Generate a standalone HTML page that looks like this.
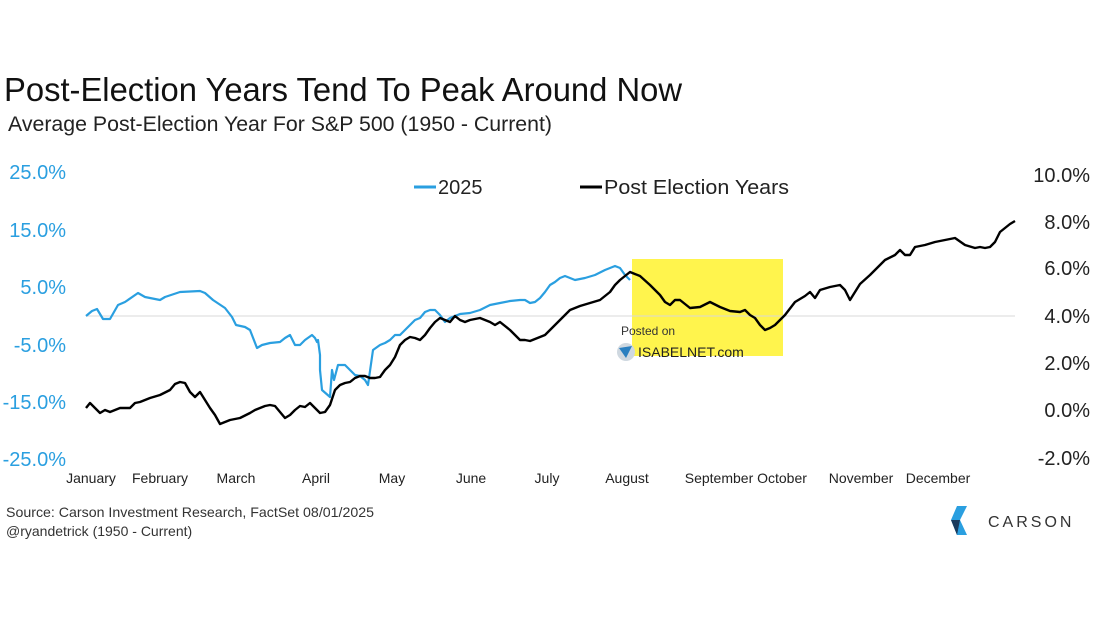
<!DOCTYPE html>
<html><head><meta charset="utf-8"><style>
html,body{margin:0;padding:0;background:#fff;}
svg{display:block;font-family:"Liberation Sans",sans-serif;}
</style></head><body>
<svg width="1094" height="617" viewBox="0 0 1094 617" xmlns="http://www.w3.org/2000/svg">
<rect width="1094" height="617" fill="#fff"/>
<text x="4" y="101" font-size="33" fill="#111" textLength="678" lengthAdjust="spacingAndGlyphs">Post-Election Years Tend To Peak Around Now</text>
<text x="8" y="131" font-size="21" fill="#222" textLength="544" lengthAdjust="spacingAndGlyphs">Average Post-Election Year For S&amp;P 500 (1950 - Current)</text>
<g font-size="20" fill="#2a9fe0" text-anchor="end">
<text x="66" y="179">25.0%</text><text x="66" y="237">15.0%</text><text x="66" y="294">5.0%</text>
<text x="66" y="352">-5.0%</text><text x="66" y="409">-15.0%</text><text x="66" y="466">-25.0%</text>
</g>
<g font-size="20" fill="#222" text-anchor="end">
<text x="1090" y="182">10.0%</text><text x="1090" y="229">8.0%</text><text x="1090" y="275">6.0%</text>
<text x="1090" y="323">4.0%</text><text x="1090" y="370">2.0%</text><text x="1090" y="417">0.0%</text><text x="1090" y="465">-2.0%</text>
</g>
<line x1="414" y1="187" x2="436" y2="187" stroke="#2a9fe0" stroke-width="3"/>
<text x="438" y="194" font-size="20" fill="#222">2025</text>
<line x1="580" y1="187" x2="602" y2="187" stroke="#000" stroke-width="3"/>
<text x="604" y="194" font-size="20" fill="#222" textLength="185" lengthAdjust="spacingAndGlyphs">Post Election Years</text>
<rect x="632" y="259" width="151" height="97" fill="#fff44d"/>
<line x1="86" y1="316" x2="1015" y2="316" stroke="#d8d8d8" stroke-width="1"/>
<g font-size="14" fill="#222" text-anchor="middle">
<text x="91" y="483">January</text><text x="160" y="483">February</text><text x="236" y="483">March</text>
<text x="316" y="483">April</text><text x="392" y="483">May</text><text x="471" y="483">June</text>
<text x="547" y="483">July</text><text x="627" y="483">August</text><text x="719" y="483">September</text>
<text x="782" y="483">October</text><text x="861" y="483">November</text><text x="938" y="483">December</text>
</g>
<polyline fill="none" stroke="#2a9fe0" stroke-width="2.2" stroke-linejoin="round" points="86,316 92,311 97,309 103,319 110,319 118,305 125,302 138,293 145,297 160,300 165,297 180,292 200,291 205,293 213,300 225,308 232,317 236,325 245,327 250,330 257,348 262,345 270,343 280,342 285,338 290,335 295,345 300,345 305,340 312,335 315,338 317,342 318,340 320,355 320,370 322,390 330,397 332,370 334,380 338,365 345,365 350,370 355,375 360,376 365,380 368,385 373,350 380,345 385,343 390,340 395,335 400,335 405,330 410,325 415,320 420,318 425,312 430,310 435,310 440,315 445,322 450,318 460,314 470,313 480,310 490,305 500,303 510,301 520,300 525,300 530,303 535,302 540,298 545,292 550,285 555,282 560,278 565,276 575,280 585,278 595,275 605,270 615,266 620,268 625,275 630,280"/>
<polyline fill="none" stroke="#000" stroke-width="2.4" stroke-linejoin="round" points="86,408 90,403 95,408 100,413 105,410 110,412 120,408 130,408 135,403 140,402 150,398 160,395 170,390 175,384 180,382 185,383 190,392 195,397 200,392 205,400 210,408 215,415 220,424 225,422 230,420 240,418 250,413 255,410 260,408 265,406 270,405 275,406 280,412 285,418 290,415 295,410 300,406 305,407 310,403 315,408 320,413 325,412 330,405 335,390 340,385 345,383 350,382 355,378 360,376 365,376 370,378 375,378 380,377 385,370 390,365 395,357 400,345 405,340 410,337 415,338 420,340 425,335 430,328 435,322 440,318 445,320 450,322 455,316 460,320 465,322 470,320 480,318 490,322 495,325 500,322 510,330 520,340 525,340 530,341 540,337 545,335 550,330 555,325 565,315 570,310 580,306 590,303 600,300 610,292 615,285 620,280 625,276 630,272 640,276 650,285 660,295 665,302 670,305 675,300 680,300 690,308 700,307 710,302 720,307 730,311 740,312 745,310 750,315 755,318 760,325 765,330 770,328 775,325 780,320 785,315 795,302 805,296 810,292 815,298 820,290 830,287 840,285 845,290 850,300 855,292 860,284 870,275 880,265 885,260 895,255 900,250 905,255 910,255 915,247 925,245 935,242 945,240 955,238 965,245 975,248 980,247 985,248 990,247 995,242 1000,232 1005,228 1010,224 1015,221"/>
<text x="621" y="335" font-size="12" fill="#333">Posted on</text>
<circle cx="626" cy="352" r="9" fill="#cfd8e0"/><path d="M619,348 L632,346 L626,358 Z" fill="#2a7fc0"/>
<text x="638" y="357" font-size="14" fill="#222">ISABELNET.com</text>
<text x="6" y="517" font-size="14" fill="#333" textLength="368" lengthAdjust="spacingAndGlyphs">Source: Carson Investment Research, FactSet 08/01/2025</text>
<text x="6" y="536" font-size="14" fill="#333">@ryandetrick     (1950 - Current)</text>
<path d="M957,506 L967,506 L960,520 L967,535 L957,535 L951,520 Z" fill="#2a9fe0"/>
<path d="M951,520 L960,520 L957,535 Z" fill="#1a3a5c"/>
<text x="988" y="527" font-size="16" fill="#333" letter-spacing="3">CARSON</text>
</svg>
</body></html>
